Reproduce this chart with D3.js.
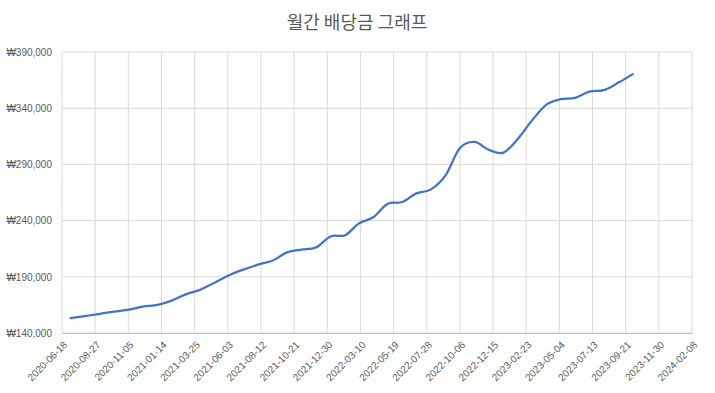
<!DOCTYPE html>
<html>
<head>
<meta charset="utf-8">
<script src="https://cdn.jsdelivr.net/npm/d3@7"></script>
<style>
  body { margin: 0; background: #fff; }
  text { font-family: "Liberation Sans", "DejaVu Sans", sans-serif; }
</style>
</head>
<body>
<svg width="715" height="393"></svg>
<script>
const title = '월간 배당금 그래프';

const months = [
  '2020-07-06','2020-08-06','2020-09-06','2020-10-06','2020-11-06','2020-12-06',
  '2021-01-06','2021-02-06','2021-03-06','2021-04-06','2021-05-06','2021-06-06',
  '2021-07-06','2021-08-06','2021-09-06','2021-10-06','2021-11-06','2021-12-06',
  '2022-01-06','2022-02-06','2022-03-06','2022-04-06','2022-05-06','2022-06-06',
  '2022-07-06','2022-08-06','2022-09-06','2022-10-06','2022-11-06','2022-12-06',
  '2023-01-06','2023-02-06','2023-03-06','2023-04-06','2023-05-06','2023-06-06',
  '2023-07-06','2023-08-06','2023-09-06','2023-10-06'
];

const dividends = [
  153300, 155100, 157100, 159100, 160700, 163500,
  165000, 169000, 174400, 178500, 184700, 191400,
  196400, 200800, 204500, 211700, 214200, 216000,
  225900, 227000, 237300, 243000, 254800, 256500,
  264200, 267800, 280500, 304600, 310000, 303000,
  300500, 313000, 328500, 343000, 348000, 349200,
  354700, 356100, 362800, 370300
];

const yTicks = [140000, 190000, 240000, 290000, 340000, 390000];

const xTicks = [
  '2020-06-18','2020-08-27','2020-11-05','2021-01-14','2021-03-25','2021-06-03',
  '2021-08-12','2021-10-21','2021-12-30','2022-03-10','2022-05-19','2022-07-28',
  '2022-10-06','2022-12-15','2023-02-23','2023-05-04','2023-07-13','2023-09-21',
  '2023-11-30','2024-02-08'
];

const svg = d3.select('svg');
const width = Number(svg.attr('width')), height = Number(svg.attr('height'));
const margin = { left: 62, right: 23, top: 52, bottom: 60 };
const innerWidth = width - (margin.left + margin.right);
const innerHeight = height - (margin.top + margin.bottom);

const parse = d3.timeParse('%Y-%m-%d');
const data = months.map((m, i) => ({ date: parse(m), value: dividends[i] }));
const tickDates = xTicks.map(parse);

const xScale = d3.scaleTime()
  .domain([tickDates[0], tickDates[tickDates.length - 1]])
  .range([0, innerWidth]);

const yScale = d3.scaleLinear()
  .domain([140000, 390000])
  .range([innerHeight, 0]);

svg.append('text')
  .attr('x', 357)
  .attr('y', 29)
  .attr('text-anchor', 'middle')
  .style('font-family', '"Noto Sans CJK KR", sans-serif')
  .style('font-size', '18px')
  .attr('fill', '#595959')
  .text(title);

const g = svg.append('g')
  .attr('transform', `translate(${margin.left},${margin.top})`);

// horizontal grid
g.append('g')
  .selectAll('line').data(yTicks).enter().append('line')
    .attr('x1', 0).attr('x2', innerWidth)
    .attr('y1', d => yScale(d)).attr('y2', d => yScale(d))
    .attr('stroke', '#d9d9d9').attr('stroke-width', 1);

// vertical grid
g.append('g')
  .selectAll('line').data(tickDates).enter().append('line')
    .attr('x1', d => xScale(d)).attr('x2', d => xScale(d))
    .attr('y1', 0).attr('y2', innerHeight)
    .attr('stroke', '#d9d9d9').attr('stroke-width', 1);

const fmt = d => '₩' + d3.format(',')(d);

const yAxis = g.append('g')
  .call(d3.axisLeft(yScale).tickValues(yTicks).tickFormat(fmt).tickSize(0).tickPadding(10));
yAxis.select('.domain').remove();
yAxis.selectAll('text')
  .attr('fill', '#595959')
  .style('font-size', '10px');

const xAxis = g.append('g')
  .attr('transform', `translate(0,${innerHeight})`)
  .call(d3.axisBottom(xScale).tickValues(tickDates).tickFormat(d3.timeFormat('%Y-%m-%d')).tickSize(0));
xAxis.select('.domain').attr('stroke', '#bfbfbf');
xAxis.selectAll('text')
  .attr('fill', '#595959')
  .style('font-size', '10px')
  .attr('text-anchor', 'end')
  .attr('x', 0)
  .attr('y', 0)
  .attr('dy', '0.35em')
  .attr('transform', 'translate(3,10) rotate(-45)');

const line = d3.line()
  .x(d => xScale(d.date))
  .y(d => yScale(d.value))
  .curve(d3.curveCardinal.tension(0));

g.append('path')
  .datum(data)
  .attr('fill', 'none')
  .attr('stroke', '#4472c4')
  .attr('stroke-width', 2.25)
  .attr('stroke-linecap', 'round')
  .attr('d', line);
</script>
</body>
</html>
